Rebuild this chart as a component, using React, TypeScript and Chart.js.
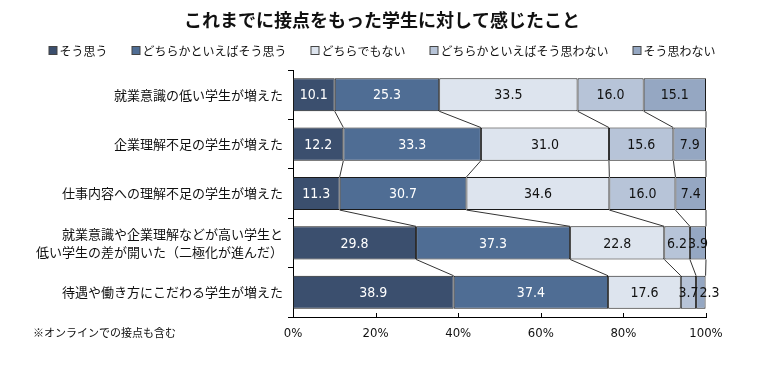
import React, { useEffect, useRef } from 'react';
import { Chart, registerables } from 'chart.js';

Chart.register(...registerables);

const titleText = 'これまでに接点をもった学生に対して感じたこと';
const footnoteText = '※オンラインでの接点も含む';

const categories: (string | string[])[] = [
  '就業意識の低い学生が増えた',
  '企業理解不足の学生が増えた',
  '仕事内容への理解不足の学生が増えた',
  ['就業意識や企業理解などが高い学生と', '低い学生の差が開いた（二極化が進んだ）'],
  '待遇や働き方にこだわる学生が増えた',
];

const seriesNames = [
  'そう思う',
  'どちらかといえばそう思う',
  'どちらでもない',
  'どちらかといえばそう思わない',
  'そう思わない',
];

const agree = [10.1, 12.2, 11.3, 29.8, 38.9];
const somewhatAgree = [25.3, 33.3, 30.7, 37.3, 37.4];
const neutral = [33.5, 31.0, 34.6, 22.8, 17.6];
const somewhatDisagree = [16.0, 15.6, 16.0, 6.2, 3.7];
const disagree = [15.1, 7.9, 7.4, 3.9, 2.3];

const seriesValues = [agree, somewhatAgree, neutral, somewhatDisagree, disagree];

const fillColors = ['#3b4f6e', '#4f6d94', '#dde4ee', '#b7c4d8', '#95a7c2'];
const labelColors = ['#ffffff', '#ffffff', '#111111', '#111111', '#111111'];

const FONT = '"Noto Sans CJK JP", "Noto Sans", sans-serif';
const NUM_FONT = '"DejaVu Sans Condensed", "Liberation Sans Narrow", "Noto Sans CJK JP", sans-serif';

const decorPlugin = {
  id: 'decor',
  afterDatasetsDraw(chart: any) {
    const ctx = chart.ctx as CanvasRenderingContext2D;
    ctx.save();
    // series lines between bars
    ctx.strokeStyle = '#333333';
    ctx.lineWidth = 1;
    chart.data.datasets.forEach((_ds: any, i: number) => {
      const meta = chart.getDatasetMeta(i);
      for (let j = 0; j < meta.data.length - 1; j++) {
        const a = meta.data[j].getProps(['x', 'y', 'height'], true);
        const b = meta.data[j + 1].getProps(['x', 'y', 'height'], true);
        ctx.beginPath();
        ctx.moveTo(a.x, a.y + a.height / 2);
        ctx.lineTo(b.x, b.y - b.height / 2);
        ctx.stroke();
      }
    });
    // data labels (shift right if overlapping the previous label in the row)
    ctx.font = `14px ${NUM_FONT}`;
    ctx.textAlign = 'left';
    ctx.textBaseline = 'middle';
    const nRows = chart.data.labels.length;
    for (let j = 0; j < nRows; j++) {
      let prevRight = -Infinity;
      chart.data.datasets.forEach((ds: any, i: number) => {
        const el = chart.getDatasetMeta(i).data[j];
        const p = el.getProps(['x', 'y', 'base'], true);
        const text = (ds.data[j] as number).toFixed(1);
        const w = ctx.measureText(text).width;
        let left = (p.x + p.base) / 2 - w / 2;
        if (left < prevRight + 1) left = prevRight + 1;
        ctx.fillStyle = labelColors[i];
        ctx.fillText(text, left, p.y + 1);
        prevRight = left + w;
      });
    }
    ctx.restore();
  },
  afterDraw(chart: any) {
    const ctx = chart.ctx as CanvasRenderingContext2D;
    const centerX = 382;
    ctx.save();
    // title
    ctx.font = `bold 18px ${FONT}`;
    ctx.fillStyle = '#111111';
    ctx.textAlign = 'center';
    ctx.textBaseline = 'middle';
    ctx.fillText(titleText, centerX, 20);

    // legend
    ctx.font = `12px ${FONT}`;
    const box = 8;
    const boxGap = 3;
    const itemGap = 24;
    const widths = seriesNames.map((n) => ctx.measureText(n).width);
    const total = widths.reduce((s, w) => s + box + boxGap + w, 0) + itemGap * (seriesNames.length - 1);
    let x = centerX - total / 2;
    const ly = 50;
    ctx.textAlign = 'left';
    seriesNames.forEach((n, i) => {
      ctx.fillStyle = fillColors[i];
      ctx.fillRect(x + 0.5, ly - box / 2 + 0.5, box, box);
      ctx.strokeStyle = '#444444';
      ctx.lineWidth = 1;
      ctx.strokeRect(x + 0.5, ly - box / 2 + 0.5, box, box);
      ctx.fillStyle = '#111111';
      ctx.fillText(n, x + box + boxGap, ly + 1);
      x += box + boxGap + widths[i] + itemGap;
    });

    // footnote
    ctx.font = `11px ${FONT}`;
    ctx.fillText(footnoteText, 33, 333);

    // inward x tick marks
    const xs = chart.scales.x;
    ctx.strokeStyle = '#000000';
    ctx.lineWidth = 1;
    xs.ticks.forEach((t: any) => {
      const px = Math.round(xs.getPixelForValue(t.value)) + 0.5;
      ctx.beginPath();
      ctx.moveTo(px, xs.top - 4);
      ctx.lineTo(px, xs.top);
      ctx.stroke();
    });
    ctx.restore();
  },
};

export default function App() {
  const ref = useRef<HTMLCanvasElement | null>(null);

  useEffect(() => {
    if (!ref.current) return;
    const chart = new Chart(ref.current, {
      type: 'bar',
      data: {
        labels: categories,
        datasets: seriesNames.map((name, i) => ({
          label: name,
          data: seriesValues[i],
          backgroundColor: fillColors[i],
          borderColor: '#1a1a1a',
          borderWidth: 1,
          borderSkipped: false,
          barPercentage: 0.67,
          categoryPercentage: 1,
        })),
      },
      options: {
        indexAxis: 'y',
        animation: false,
        responsive: false,
        devicePixelRatio: 1,
        layout: { padding: { left: 0, right: 78, top: 70, bottom: 0 } },
        plugins: {
          legend: { display: false },
          title: { display: false },
          tooltip: { enabled: false },
        },
        scales: {
          x: {
            stacked: true,
            min: 0,
            max: 100,
            ticks: {
              stepSize: 20,
              callback: (v: any) => `${v}%`,
              color: '#111111',
              font: { family: NUM_FONT, size: 13 },
              padding: 9,
              maxRotation: 0,
            },
            grid: { display: false, drawTicks: false },
            border: { display: true, color: '#000000', width: 1 },
            afterFit: (scale: any) => {
              scale.height = 52;
            },
          },
          y: {
            stacked: true,
            ticks: {
              color: '#111111',
              font: { family: FONT, size: 13, lineHeight: 1.4 },
              padding: 5,
            },
            grid: {
              display: true,
              offset: true,
              drawOnChartArea: false,
              drawTicks: true,
              tickLength: 5,
              color: '#000000',
            },
            border: { display: true, color: '#000000', width: 1 },
            afterFit: (scale: any) => {
              scale.width = 293;
            },
          },
        },
      },
      plugins: [decorPlugin],
    });
    return () => chart.destroy();
  }, []);

  return (
    <div style={{ position: 'fixed', left: 0, top: 0, width: 784, height: 369, background: '#ffffff' }}>
      <canvas ref={ref} width={784} height={369} />
    </div>
  );
}
